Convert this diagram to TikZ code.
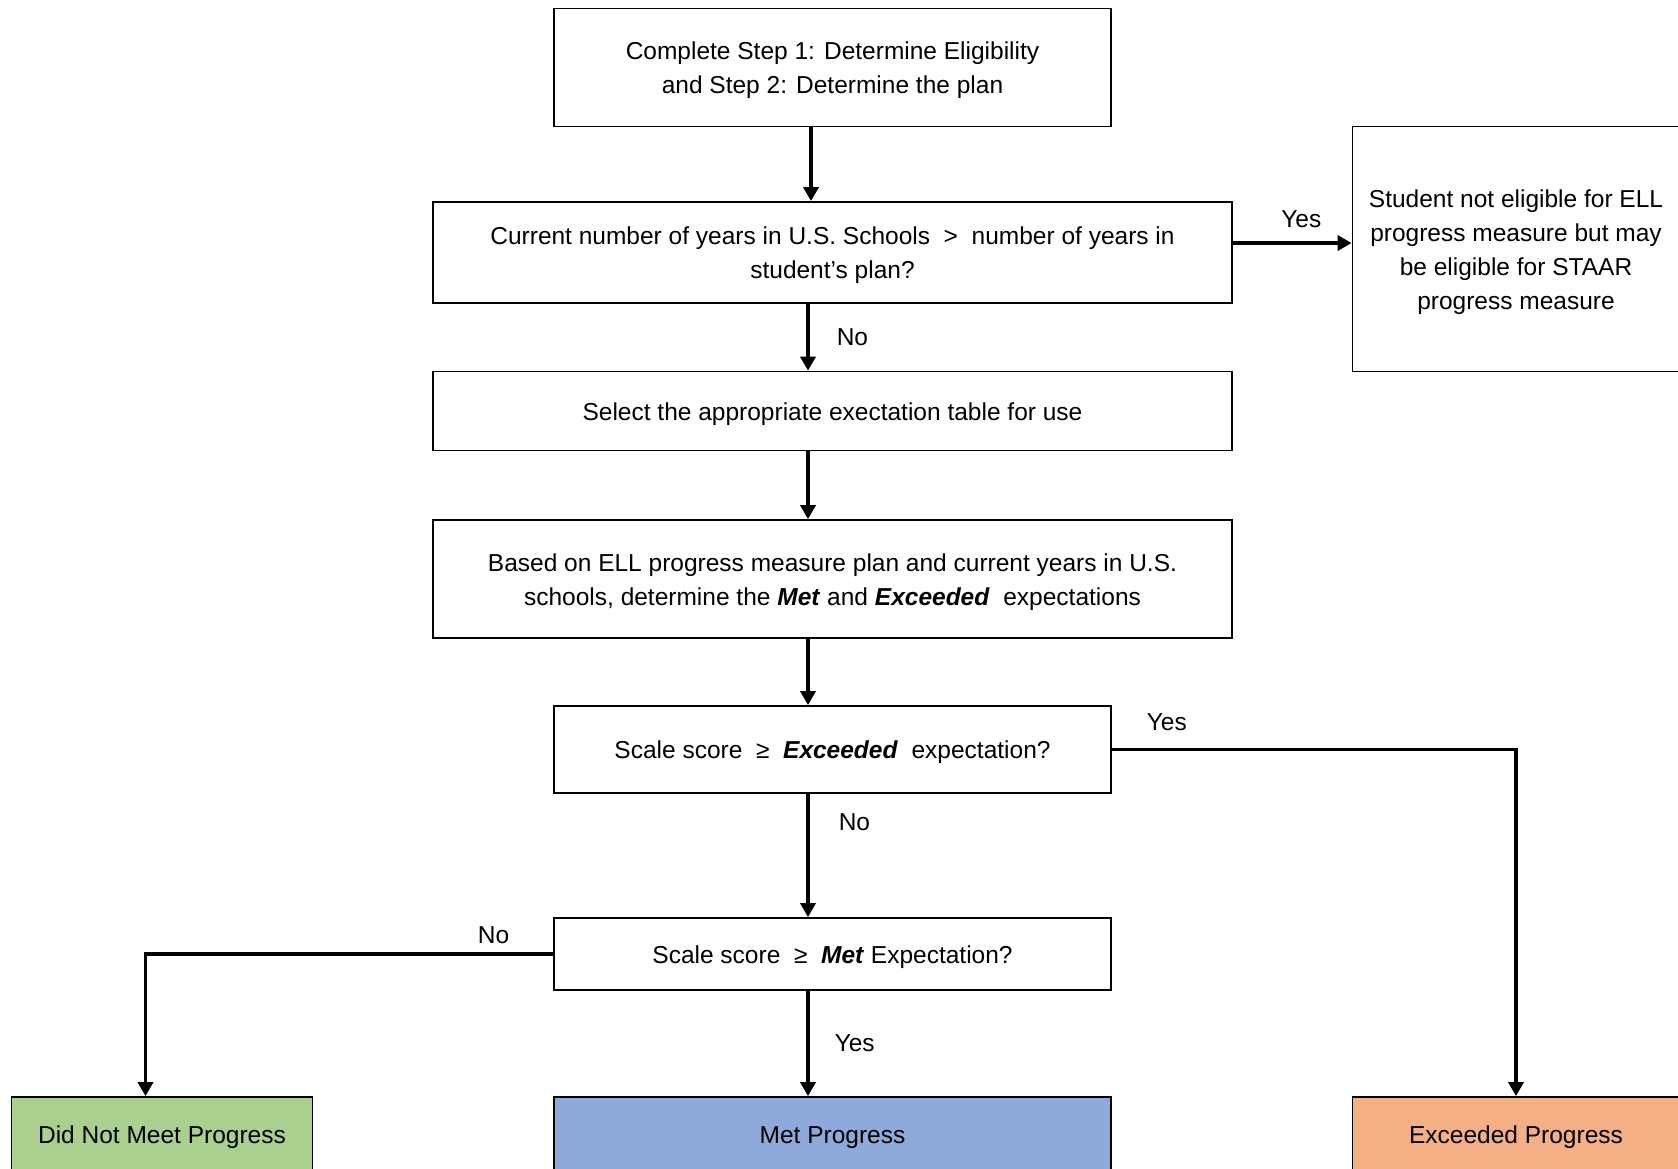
\documentclass[tikz,border=0pt]{standalone}
\usepackage{fontspec}
\setmainfont{Liberation Sans}
\usepackage{tikz}
\usetikzlibrary{arrows.meta, positioning}
\definecolor{notmetfill}{RGB}{169,208,142}
\definecolor{metfill}{RGB}{142,169,219}
\definecolor{exceedfill}{RGB}{244,176,132}

\begin{document}
\begin{tikzpicture}[
    x=1pt, y=-1pt,
    box/.style={draw, line width=1.8pt, align=center, inner sep=0pt,
        font=\fontsize{24.5}{34}\selectfont,
        execute at begin node={\rule{0pt}{#1}}},
    box/.default=24pt,
    arr/.style={line width=3.5pt, -{Triangle[length=14pt,width=15pt]}},
    lbl/.style={inner sep=0pt, font=\fontsize{24.5}{28}\selectfont},
]
\useasboundingbox (0,0) rectangle (1678,1168);
\fill[white] (0,0) rectangle (1678,1168);
\node[box=58pt, minimum width=557pt, minimum height=118pt] (start) at (832.5,67.5)
    {Complete Step 1: Determine Eligibility\\and Step 2: Determine the plan};
\node[box=58pt, minimum width=799pt, minimum height=101pt] (years) at (832.5,252.5)
    {Current number of years in U.S. Schools~~>~~number of years in\\student's plan?};
\node[box=126pt, minimum width=327pt, minimum height=245pt] (notelig) at (1516,249)
    {Student not eligible for ELL\\progress measure but may\\be eligible for STAAR\\progress measure};
\node[box, minimum width=799pt, minimum height=79pt] (table) at (832.5,411)
    {Select the appropriate exectation table for use};
\node[box=58pt, minimum width=799pt, minimum height=118pt] (expect) at (832.5,579)
    {Based on ELL progress measure plan and current years in U.S.\\schools, determine the \textbf{\textit{Met}} and \textbf{\textit{Exceeded}}~ expectations};
\node[box, minimum width=557pt, minimum height=87pt] (exceed) at (832.5,749.5)
    {Scale score~~≥~~\textbf{\textit{Exceeded}}~ expectation?};
\node[box, minimum width=557pt, minimum height=72pt] (met) at (832.5,954)
    {Scale score~~≥~~\textbf{\textit{Met}} Expectation?};
\node[box, fill=notmetfill, minimum width=301pt, minimum height=74pt] (notmetp) at (162,1134)
    {Did Not Meet Progress};
\node[box, fill=metfill, minimum width=557pt, minimum height=74pt] (metp) at (832.5,1134)
    {Met Progress};
\node[box, fill=exceedfill, minimum width=327pt, minimum height=74pt] (exceedp) at (1516,1134)
    {Exceeded Progress};
\coordinate (col) at (808,0);
\coordinate (col1) at (811,0);
\draw[arr] (start.south -| col1) -- (years.north -| col1);
\draw[arr] (years.south -| col) -- node[lbl, right=27pt] {No} (table.north -| col);
\draw[arr] (table.south -| col) -- (expect.north -| col);
\draw[arr] (expect.south -| col) -- (exceed.north -| col);
\draw[arr] (exceed.south -| col) -- node[lbl, pos=0.23, right=29pt] {No} (met.north -| col);
\draw[arr] (met.south -| col) -- node[lbl, right=25pt] {Yes} (metp.north -| col);
\draw[arr] ([yshift=9.5pt]years.east) -- node[lbl, above=14pt, xshift=9pt] {Yes}
    ([yshift=9.5pt]years.east -| notelig.west);
\draw[arr] (exceed.east) -| node[lbl, pos=0.068, above=17pt] {Yes} (exceedp.north);
\draw[arr] (met.west) -| node[lbl, pos=0.073, above=9pt] {No} ([xshift=-16.5pt]notmetp.north);
\end{tikzpicture}
\end{document}
